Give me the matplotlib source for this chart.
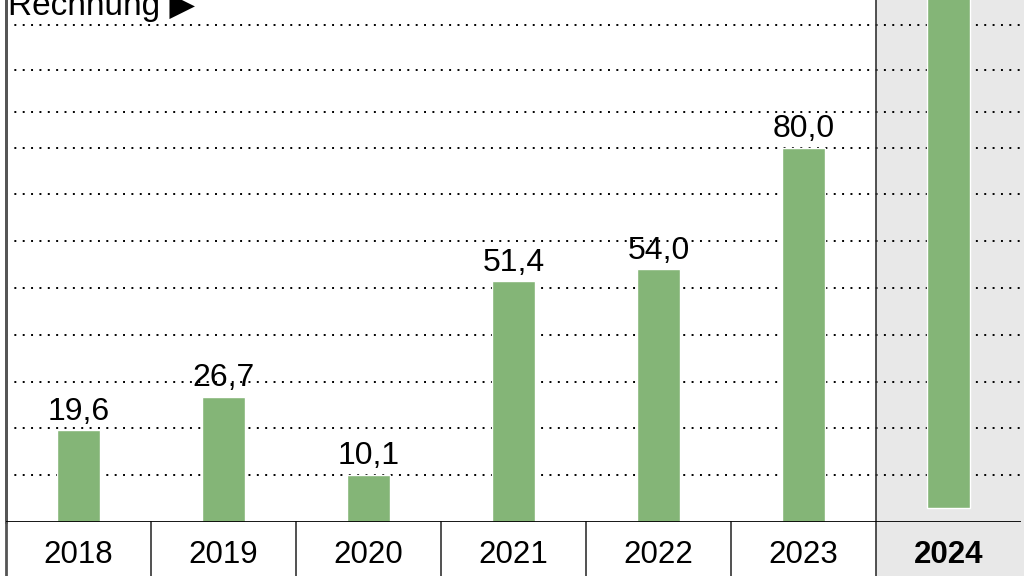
import matplotlib
matplotlib.use('Agg')
import matplotlib.pyplot as plt
from matplotlib.patches import Rectangle
from matplotlib.transforms import blended_transform_factory

# --- DATA ---
years = ['2018', '2019', '2020', '2021', '2022', '2023', '2024']
values = [19.6, 26.7, 10.1, 51.4, 54.0, 80.0]
value_labels = ['19,6', '26,7', '10,1', '51,4', '54,0', '80,0']
bar_2024_bottom = 3.0
bar_2024_top = 130.0   # runs off the top of the picture
grid_levels = [10, 20, 30, 40, 50, 60, 70, 80, 87.7, 96.5, 106.3]

green = '#84b577'
shade = '#e8e8e8'

W, H = 1024, 576
fig = plt.figure(figsize=(W / 100, H / 100), dpi=100)
ax = fig.add_axes([6 / W, (H - 522) / H, 1015 / W, 522 / H])
ax.set_xlim(-0.5, 6.5)
ax.set_ylim(0, 522 / 4.68)

trans = blended_transform_factory(ax.transData, ax.transAxes)

# shaded column for 2024 (reaches into the label row)
ax.add_patch(Rectangle((5.5, -0.2), 1.2, 1.3, transform=trans, facecolor=shade,
                       edgecolor='none', clip_on=False, zorder=0))

# dotted grid
for g in grid_levels:
    ax.axhline(g, color='black', linewidth=1.4, linestyle=(0, (1, 3.3)), zorder=1)

bw = 0.30
x = list(range(len(values)))
ax.bar(x, values, width=bw, color=green, edgecolor='white', linewidth=1, zorder=2)
ax.bar([6], [bar_2024_top - bar_2024_bottom], bottom=[bar_2024_bottom], width=bw,
       color=green, edgecolor='white', linewidth=1, zorder=2)

for xi, v, lab in zip(x, values, value_labels):
    ax.text(xi, v + 0.8, lab, ha='center', va='bottom', fontsize=23,
            family=['Liberation Sans', 'DejaVu Sans'], zorder=3)

# label row
for i, y in enumerate(years):
    ax.text(i, -0.063, y, transform=trans, ha='center', va='center', fontsize=22.5,
            family=['Liberation Sans', 'DejaVu Sans'],
            fontweight='bold' if y == '2024' else 'normal', clip_on=False)

for i in range(1, len(years)):
    top = 1.1 if i == 6 else 0.0
    ax.plot([i - 0.5, i - 0.5], [-0.2, top], transform=trans, color='#333333',
            linewidth=1.2, clip_on=False, zorder=1)

# axis lines
for s in ['top', 'right', 'bottom']:
    ax.spines[s].set_visible(False)
ax.spines['left'].set_color('#555555')
ax.spines['left'].set_linewidth(2)
ax.plot([-0.5, -0.5], [-0.2, 1.1], transform=trans, color='#555555', linewidth=2,
        clip_on=False, zorder=4)
ax.axhline(0, color='black', linewidth=2, zorder=4)
ax.set_xticks([])
ax.set_yticks([])
ax.patch.set_alpha(0)

# header text, cut by the top edge as in the original crop
fig.text(8 / W, 1 - 15 / H, 'Rechnung \u25b6', ha='left', va='baseline', fontsize=24,
         family=['Liberation Sans', 'DejaVu Sans'])

fig.savefig('out.png', dpi=100)
